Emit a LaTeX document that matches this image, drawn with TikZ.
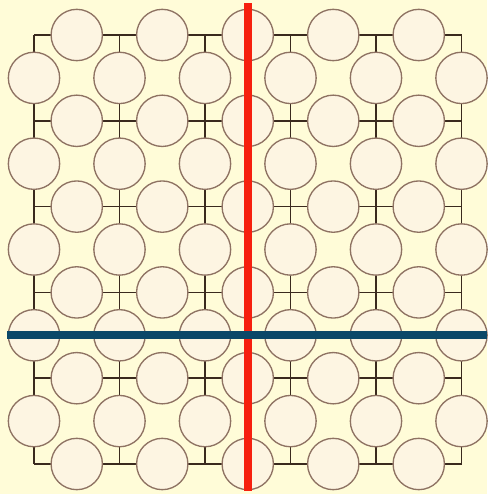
\documentclass[tikz,border=0pt]{standalone}
\definecolor{bg}{HTML}{FFFCD8}
\definecolor{cellfill}{HTML}{FDF5E2}
\definecolor{cellline}{HTML}{8E7262}
\definecolor{wirec}{HTML}{3A2A1E}
\definecolor{redline}{HTML}{F6200E}
\definecolor{blueline}{HTML}{0B4868}
\begin{document}
\begin{tikzpicture}[x=0.75pt,y=-0.75pt,
  cell/.style={circle, draw=cellline, fill=cellfill, line width=1pt, minimum size=38.5pt, inner sep=0pt},
  wire/.style={draw=wirec, line width=1.1pt},
  redcut/.style={draw=redline, line width=6pt},
  bluecut/.style={draw=blueline, line width=6pt}]
\fill[bg] (0,0) rectangle (487,494);
\useasboundingbox (0,0) rectangle (487,494);
% grid coordinates
\foreach \i in {0,...,5}{
  \pgfmathsetmacro{\xx}{34+85.5*\i}
  \coordinate (vt\i) at (\xx,35);
  \coordinate (vb\i) at (\xx,464);
}
\foreach \r in {0,2,...,10}{
  \pgfmathsetmacro{\yy}{35+42.9*\r}
  \coordinate (hl\r) at (34,\yy);
  \coordinate (hr\r) at (461.5,\yy);
}
% wires
\foreach \i in {0,...,5}{ \draw[wire] (vt\i) -- (vb\i); }
\foreach \r in {0,2,...,10}{ \draw[wire] (hl\r) -- (hr\r); }
% circles
\foreach \r in {0,2,...,10}{
  \pgfmathsetmacro{\yy}{35+42.9*\r}
  \foreach \j in {0,...,4}{
    \pgfmathsetmacro{\xx}{76.75+85.5*\j}
    \node[cell] (c\r-\j) at (\xx,\yy) {};
  }
}
\foreach \r in {1,3,...,9}{
  \pgfmathsetmacro{\yy}{35+42.9*\r}
  \foreach \j in {0,...,5}{
    \pgfmathsetmacro{\xx}{34+85.5*\j}
    \node[cell] (c\r-\j) at (\xx,\yy) {};
  }
}
% cut lines
\coordinate (rt) at (247.75,3);
\coordinate (rb) at (247.75,491);
\coordinate (bl) at (7,335.3);
\coordinate (br) at (487,335.3);
\draw[redcut] (rt) -- (rb);
\draw[bluecut] (bl) -- (br);
\end{tikzpicture}
\end{document}
